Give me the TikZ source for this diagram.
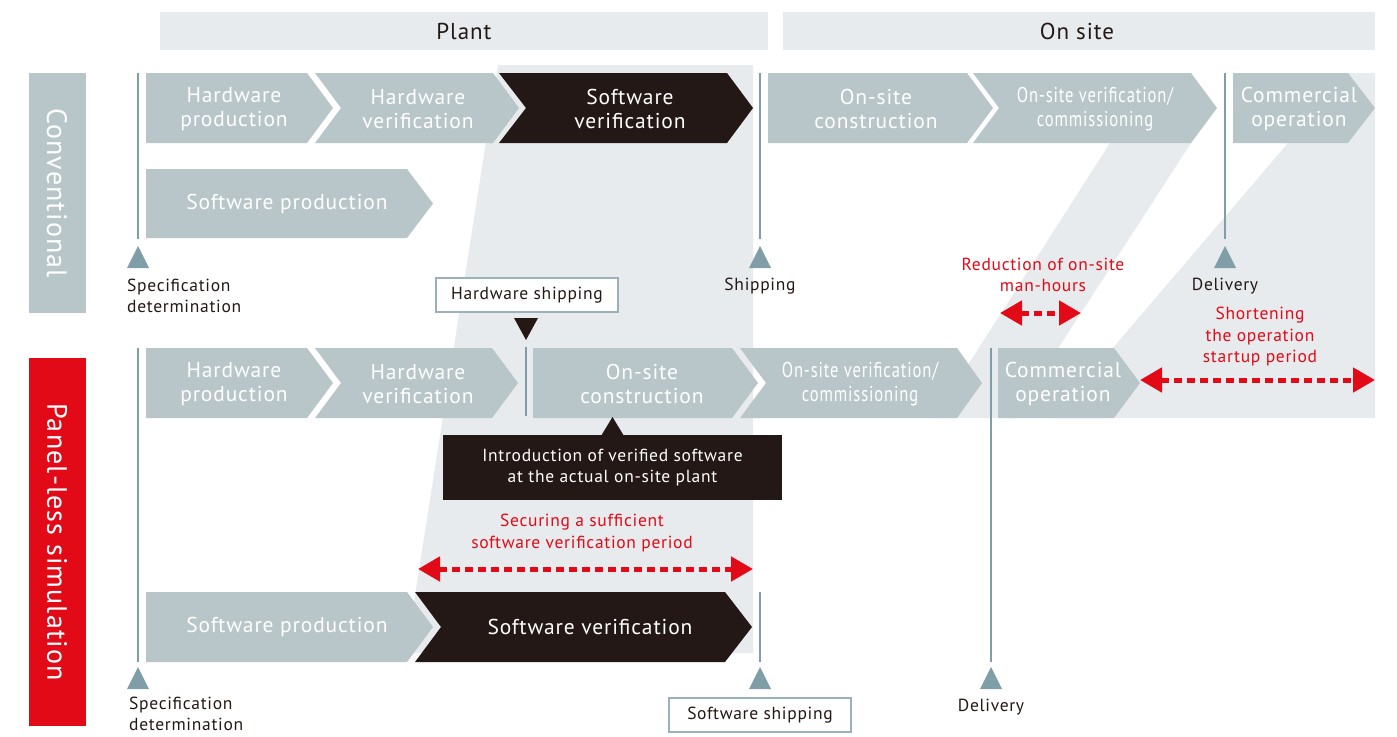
\documentclass[tikz,border=0pt]{standalone}
\usepackage{fontspec}
\setmainfont{PT Sans}[LetterSpace=4]
\newfontfamily\condfont{PT Sans}[FakeStretch=0.77,LetterSpace=4]
\usetikzlibrary{arrows.meta}
\definecolor{chevgray}{HTML}{B8C6C9}
\definecolor{bglight}{HTML}{E7EBED}
\definecolor{linecol}{HTML}{7F9EA7}
\definecolor{darkc}{HTML}{231815}
\definecolor{redc}{HTML}{E20A17}
\begin{document}
\begin{tikzpicture}[x=1pt,y=-1pt,
  chevtext/.style={text=white, font=\fontsize{21.5}{24}\selectfont, align=center, inner sep=0pt},
  condtext/.style={text=white, font=\condfont\fontsize{21.5}{24}\selectfont, align=center, inner sep=0pt},
  lbl/.style={text=darkc, font=\fontsize{17.5}{22}\selectfont, align=center, inner sep=0pt},
  lblleft/.style={text=darkc, font=\fontsize{17.5}{21}\selectfont, align=left, inner sep=0pt, anchor=west},
  redlbl/.style={text=redc, font=\fontsize{17.5}{21.5}\selectfont, align=center, inner sep=0pt},
  headtext/.style={text=darkc, font=\fontsize{23}{26}\selectfont, inner sep=0pt},
  sidetext/.style={text=white, font=\fontsize{28}{30}\selectfont, rotate=-90, inner sep=0pt},
  vline/.style={draw=linecol, line width=2pt},
  marker/.style={fill=linecol},
  shipbox/.style={draw=linecol!80, line width=1.5pt, fill=white, text=darkc, font=\fontsize{17.5}{20}\selectfont, minimum width=182pt, minimum height=34pt, inner sep=0pt},
  calloutbox/.style={fill=darkc, text=white, font=\fontsize{17.5}{21}\selectfont, align=center, minimum width=339pt, minimum height=65pt, inner sep=0pt},
  redarrow/.style={draw=redc, line width=5pt, dash pattern=on 8pt off 5pt, {Triangle[length=22pt,width=24pt]}-{Triangle[length=22pt,width=24pt]}}
]
\useasboundingbox (0,0) rectangle (1397,736);

% headers
\fill[bglight] (160,12) rectangle (768,50);
\fill[bglight] (783,12) rectangle (1375,50);
\node[headtext] (hplant) at (464,31) {Plant};
\node[headtext] (honsite) at (1077,31) {On site};

% side labels
\fill[chevgray] (29,73) rectangle (86,313);
\fill[redc] (29,358) rectangle (86,726);
\node[sidetext] (sconv) at (57,193) {Conventional};
\node[sidetext] (spanel) at (57,542) {Panel-less simulation};

% background shading
\fill[bglight] (498,65) -- (753,65) -- (753,653) -- (406,653) -- cycle;
\fill[bglight] (1110,143) -- (1191,143) -- (1013,418) -- (934,418) -- cycle;
\fill[bglight] (1240,73) -- (1375,73) -- (1375,418) -- (1053,418) -- (1288,143) -- (1240,143) -- cycle;

% row 1 (conventional)
\fill[chevgray] (146,73) -- (307,73) -- (333,108) -- (307,143) -- (146,143) -- cycle;
\fill[chevgray] (315,73) -- (493,73) -- (519,108) -- (493,143) -- (315,143) -- (341,108) -- cycle;
\fill[darkc] (499,73) -- (727,73) -- (753,108) -- (727,143) -- (499,143) -- (526,108) -- cycle;
\fill[chevgray] (768,73) -- (967,73) -- (993,108) -- (967,143) -- (768,143) -- cycle;
\fill[chevgray] (973,73) -- (1191,73) -- (1217,108) -- (1191,143) -- (973,143) -- (999,108) -- cycle;
\fill[chevgray] (1233,73) -- (1348,73) -- (1375,108) -- (1348,143) -- (1233,143) -- cycle;
\node[chevtext] (c1a) at (234,109) {Hardware\\production};
\node[chevtext] (c1b) at (418,109) {Hardware\\verification};
\node[chevtext] (c1c) at (630,109) {Software\\verification};
\node[chevtext] (c1d) at (876,109) {On-site\\construction};
\node[condtext] (c1e) at (1095,109) {On-site verification/\\commissioning};
\node[chevtext] (c1f) at (1299,109) {Commercial\\operation};

% row 2 (conventional)
\fill[chevgray] (146,169) -- (407,169) -- (433,203.5) -- (407,238) -- (146,238) -- cycle;
\node[chevtext] (c2a) at (287,203.5) {Software production};

% row 3 (panel-less)
\fill[chevgray] (146,348) -- (307,348) -- (333,383) -- (307,418) -- (146,418) -- cycle;
\fill[chevgray] (315,348) -- (492,348) -- (518,383) -- (492,418) -- (315,418) -- (341,383) -- cycle;
\fill[chevgray] (533,348) -- (732,348) -- (758,383) -- (732,418) -- (533,418) -- cycle;
\fill[chevgray] (740,348) -- (957,348) -- (982,383) -- (957,418) -- (740,418) -- (766,383) -- cycle;
\fill[chevgray] (998,348) -- (1114,348) -- (1140,383) -- (1114,418) -- (998,418) -- cycle;
\node[chevtext] (c3a) at (234,384) {Hardware\\production};
\node[chevtext] (c3b) at (418,384) {Hardware\\verification};
\node[chevtext] (c3c) at (642,384) {On-site\\construction};
\node[condtext] (c3d) at (860,384) {On-site verification/\\commissioning};
\node[chevtext] (c3e) at (1063,384) {Commercial\\operation};

% row 4 (panel-less)
\fill[chevgray] (146,592) -- (407,592) -- (433,627) -- (407,662) -- (146,662) -- cycle;
\fill[darkc] (415,592) -- (725,592) -- (752,627) -- (725,662) -- (415,662) -- (441,627) -- cycle;
\node[chevtext] (c4a) at (287,627) {Software production};
\node[chevtext] (c4b) at (590,627) {Software verification};

% milestone lines
\coordinate (specAt) at (138,73);   \coordinate (specAb) at (138,239);
\coordinate (shipt) at (760,73);    \coordinate (shipb) at (760,239);
\coordinate (delAt) at (1225,73);   \coordinate (delAb) at (1225,239);
\coordinate (specBt) at (138,348);  \coordinate (specBb) at (138,662);
\coordinate (hwt) at (526,347);     \coordinate (hwb) at (526,416);
\coordinate (delBt) at (991,348);   \coordinate (delBb) at (991,662);
\coordinate (swt) at (760,592);     \coordinate (swb) at (760,662);
\draw[vline] (specAt) -- (specAb);
\draw[vline] (shipt) -- (shipb);
\draw[vline] (delAt) -- (delAb);
\draw[vline] (specBt) -- (specBb);
\draw[vline] (hwt) -- (hwb);
\draw[vline] (delBt) -- (delBb);
\draw[vline] (swt) -- (swb);

% markers
\fill[marker] (127,268) -- (138,246) -- (149,268) -- cycle;
\fill[marker] (749,268) -- (760,246) -- (771,268) -- cycle;
\fill[marker] (1214,268) -- (1225,246) -- (1236,268) -- cycle;
\fill[marker] (127,689) -- (138,667) -- (149,689) -- cycle;
\fill[marker] (749,689) -- (760,667) -- (771,689) -- cycle;
\fill[marker] (980,689) -- (991,667) -- (1002,689) -- cycle;

% milestone labels
\node[lblleft] (specA) at (127,296) {Specification\\determination};
\node[lbl] (shipA) at (760,286) {Shipping};
\node[lbl] (delA) at (1225,286) {Delivery};
\node[lblleft] (specB) at (129,714) {Specification\\determination};
\node[lbl] (delB) at (991,707) {Delivery};

% shipping boxes
\node[shipbox] (hwship) at (527,295) {Hardware shipping};
\fill[darkc] (514,318) -- (538,318) -- (526,340) -- cycle;
\node[shipbox] (swship) at (760,715) {Software shipping};

% callout
\node[calloutbox] (intro) at (612.5,467.5) {Introduction of verified software\\at the actual on-site plant};
\fill[darkc] (601,436) -- (612.5,417) -- (624,436) -- cycle;

% red annotations
\node[redlbl] (secure) at (582,533) {Securing a sufficient\\software verification period};
\coordinate (secL) at (418,569); \coordinate (secR) at (753,569);
\draw[redarrow] (secL) -- (secR);
\node[redlbl] (reduce) at (1043,275) {Reduction of on-site\\man-hours};
\coordinate (redL) at (1000,313); \coordinate (redR) at (1081,313);
\draw[redarrow] (redL) -- (redR);
\node[redlbl] (shorten) at (1260,337) {Shortening\\the operation\\startup period};
\coordinate (shoL) at (1140,380); \coordinate (shoR) at (1375,380);
\draw[redarrow] (shoL) -- (shoR);
\end{tikzpicture}
\end{document}
